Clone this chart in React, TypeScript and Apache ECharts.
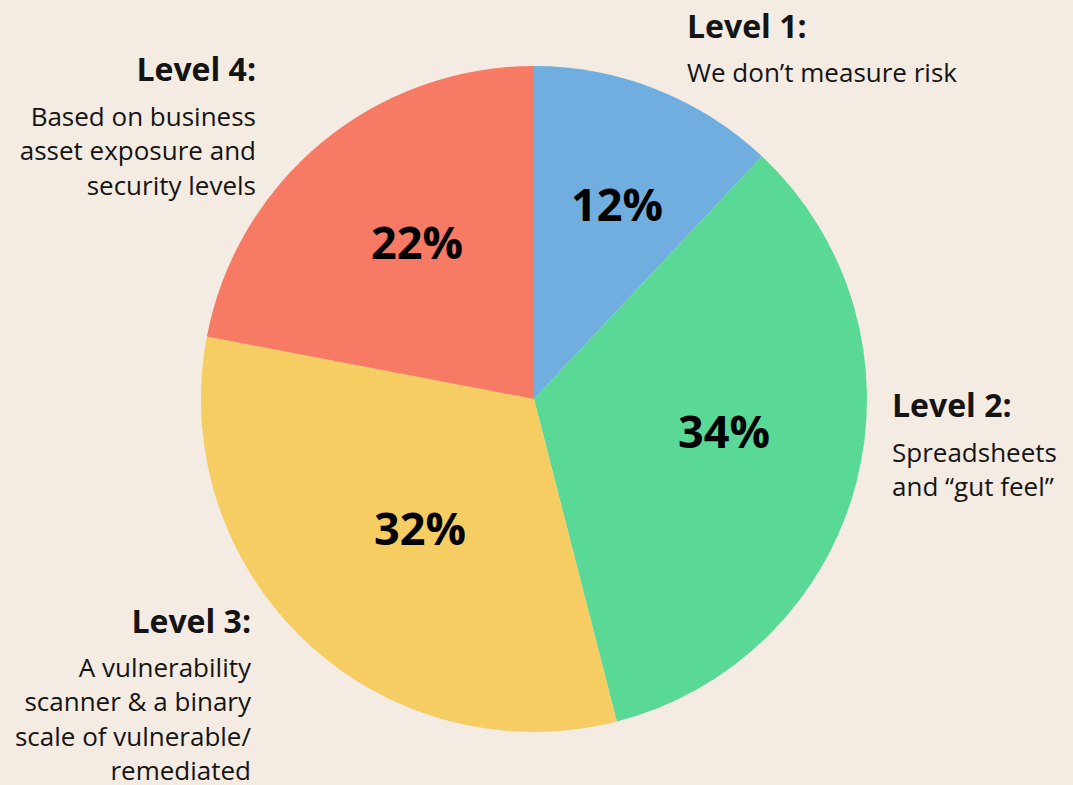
import React, { useEffect, useRef } from "react";
import * as echarts from "echarts";

const levels = ["Level 1:", "Level 2:", "Level 3:", "Level 4:"];
const shares = [12, 34, 32, 22];
const descriptions = [
  ["We don’t measure risk"],
  ["Spreadsheets", "and “gut feel”"],
  ["A vulnerability", "scanner & a binary", "scale of vulnerable/", "remediated"],
  ["Based on business", "asset exposure and", "security levels"],
];
const colors = ["#6FAEDE", "#5AD895", "#F5CD63", "#F77A64"];

// layout (pixels)
const pctPos = [
  [617, 203],
  [724, 430],
  [420, 527],
  [417, 241],
];
const textBlocks = [
  { x: 687, titleY: 25, descY: 72, align: "left" },
  { x: 892, titleY: 404, descY: 452, align: "left" },
  { x: 251, titleY: 620, descY: 667, align: "right" },
  { x: 256, titleY: 68, descY: 116, align: "right" },
];
const FONT = "'Open Sans', 'Noto Sans', sans-serif";
const INK = "#141414";

export default function App() {
  const ref = useRef<HTMLDivElement>(null);
  useEffect(() => {
    if (!ref.current) return;
    const chart = echarts.init(ref.current, null, { renderer: "svg" });
    const graphics: any[] = [];
    textBlocks.forEach((b, i) => {
      graphics.push({
        type: "text",
        x: b.x,
        y: b.titleY,
        style: {
          text: levels[i],
          font: `bold 32px ${FONT}`,
          fill: INK,
          align: b.align,
          verticalAlign: "middle",
        },
      });
      descriptions[i].forEach((line, j) => {
        graphics.push({
          type: "text",
          x: b.x,
          y: b.descY + j * 34.3,
          style: {
            text: line,
            font: `26px ${FONT}`,
            lineHeight: 26,
            fill: INK,
            align: b.align,
            verticalAlign: "middle",
          },
        });
      });
    });
    chart.setOption({
      animation: false,
      backgroundColor: "#F4EBE2",
      graphic: graphics,
      series: [
        {
          type: "pie",
          center: [534, 399],
          radius: 333,
          startAngle: 90,
          clockwise: true,
          silent: true,
          label: {
            show: true,
            position: "inside",
            formatter: "{c}%",
            color: "#000",
            fontFamily: FONT,
            fontWeight: "bold",
            fontSize: 45,
          },
          labelLine: { show: false },
          labelLayout: (p: any) => ({
            x: pctPos[p.dataIndex][0],
            y: pctPos[p.dataIndex][1],
            align: "center",
            verticalAlign: "middle",
          }),
          data: shares.map((v, i) => ({
            name: levels[i],
            value: v,
            itemStyle: { color: colors[i] },
          })),
        },
      ],
    });
    return () => chart.dispose();
  }, []);
  return (
    <div
      ref={ref}
      style={{ position: "fixed", left: 0, top: 0, width: 1073, height: 785 }}
    />
  );
}
